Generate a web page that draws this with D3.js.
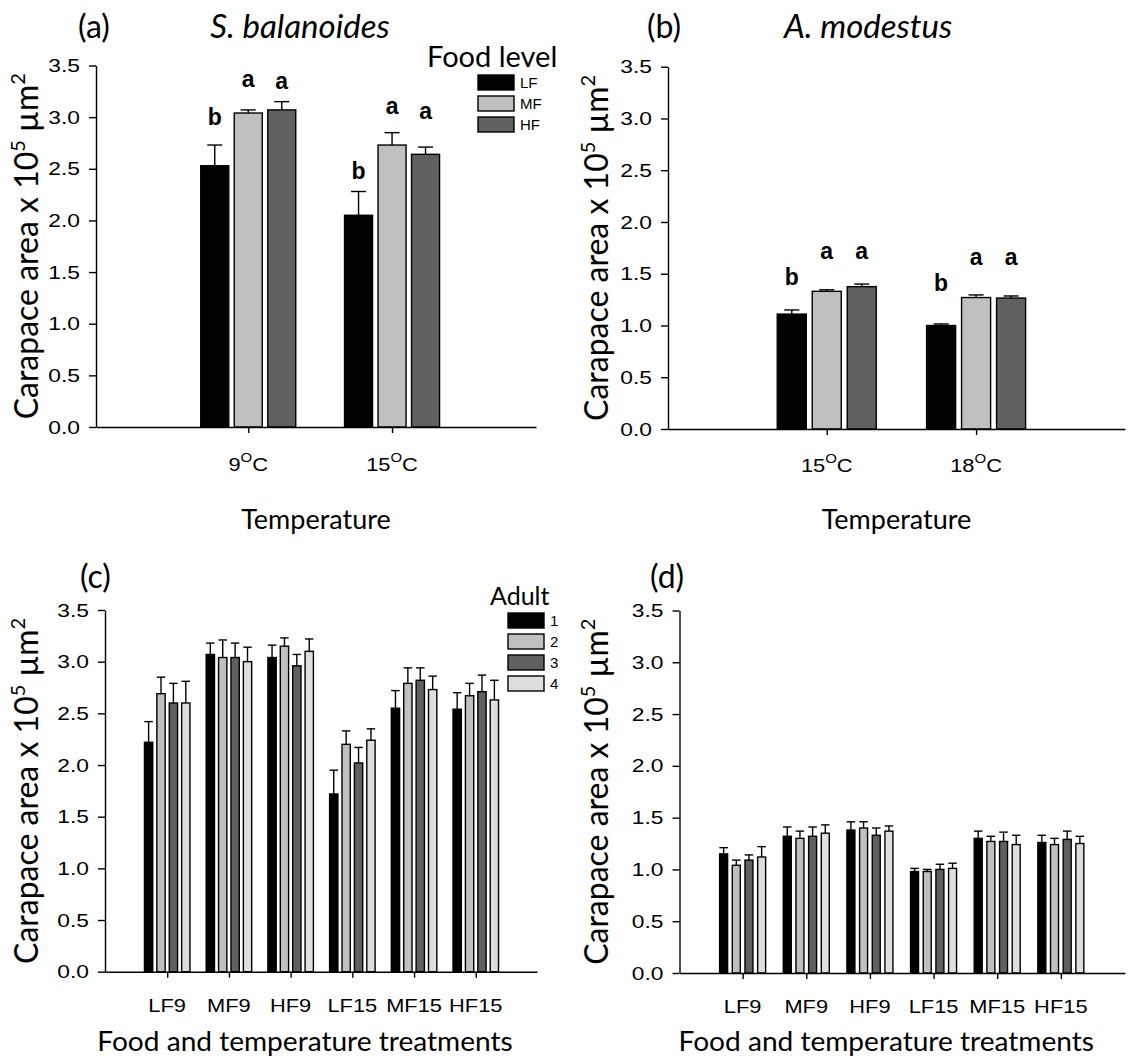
<!DOCTYPE html>
<html>
<head>
<meta charset="utf-8">
<script src="https://cdn.jsdelivr.net/npm/d3@7"></script>
<style>
  body { margin: 0; background: #fff; }
  svg { display: block; }
  .axis text { font-family: "Liberation Sans", Arial, sans-serif; font-size: 19px; fill: #000; }
  .axis path, .axis line { stroke: #000; stroke-width: 1.4px; }
  .cal { font-family: Lato, "Open Sans", sans-serif; fill: #000; }
  .ari { font-family: "Liberation Sans", Arial, sans-serif; fill: #000; }
</style>
</head>
<body>
<svg id="fig" width="1128" height="1062"></svg>
<script>
// ---------- data ----------
const foodLevels = ['LF', 'MF', 'HF'];
const foodColors = ['#000000', '#c0c0c0', '#606060'];

// (a) S. balanoides, rows = temperature, cols = LF, MF, HF
const balanoidesTemps = ['9', '15'];
const balanoidesMean = [[2.53, 3.04, 3.07], [2.05, 2.73, 2.64]];
const balanoidesSE = [[0.20, 0.03, 0.08], [0.23, 0.12, 0.07]];
const balanoidesLetters = [['b', 'a', 'a'], ['b', 'a', 'a']];
const balanoidesLetterAt = [[2.92, 3.29, 3.27], [2.40, 3.03, 2.98]];

// (b) A. modestus
const modestusTemps = ['15', '18'];
const modestusMean = [[1.11, 1.33, 1.375], [1.00, 1.27, 1.265]];
const modestusSE = [[0.04, 0.015, 0.025], [0.015, 0.025, 0.02]];
const modestusLetters = [['b', 'a', 'a'], ['b', 'a', 'a']];
const modestusLetterAt = [[1.39, 1.64, 1.64], [1.33, 1.58, 1.58]];

// (c), (d) per adult, rows = treatment, cols = adult 1..4
const treatments = ['LF9', 'MF9', 'HF9', 'LF15', 'MF15', 'HF15'];
const adults = ['1', '2', '3', '4'];
const adultColors = ['#000000', '#c0c0c0', '#606060', '#dedede'];

const balanoidesAdultMean = [
  [2.22, 2.69, 2.60, 2.60],
  [3.07, 3.04, 3.04, 3.00],
  [3.04, 3.15, 2.96, 3.10],
  [1.72, 2.20, 2.02, 2.24],
  [2.55, 2.79, 2.82, 2.73],
  [2.54, 2.67, 2.71, 2.63]
];
const balanoidesAdultSE = [
  [0.20, 0.16, 0.19, 0.21],
  [0.11, 0.17, 0.14, 0.14],
  [0.12, 0.08, 0.11, 0.12],
  [0.23, 0.13, 0.15, 0.11],
  [0.17, 0.15, 0.12, 0.13],
  [0.16, 0.12, 0.16, 0.19]
];

const modestusAdultMean = [
  [1.15, 1.04, 1.09, 1.12],
  [1.32, 1.30, 1.32, 1.35],
  [1.38, 1.40, 1.33, 1.37],
  [0.98, 0.98, 1.00, 1.01],
  [1.30, 1.27, 1.27, 1.24],
  [1.26, 1.24, 1.29, 1.25]
];
const modestusAdultSE = [
  [0.06, 0.05, 0.05, 0.10],
  [0.09, 0.07, 0.09, 0.08],
  [0.08, 0.06, 0.07, 0.05],
  [0.03, 0.02, 0.05, 0.05],
  [0.07, 0.05, 0.09, 0.09],
  [0.07, 0.06, 0.08, 0.07]
];

const yTicks = [0, 0.5, 1.0, 1.5, 2.0, 2.5, 3.0, 3.5];

const svg = d3.select('#fig');

// the original figure is a bit wider than tall, so widen text around its anchor
function stretchX(sel, k) {
  sel.each(function() {
    const t = d3.select(this);
    const x = +t.attr('x') || 0;
    t.attr('transform', `translate(${x * (1 - k)},0) scale(${k},1)`);
  });
}

function drawPanel(cfg) {
  const g = svg.append('g');

  const y = d3.scaleLinear().domain([0, 3.5]).range([cfg.yZero, cfg.yTop]);
  const x = d3.scalePoint().domain(cfg.cats).range([cfg.x0, cfg.x1])
      .padding(cfg.pad).align(cfg.align);
  const sub = d3.scaleBand().domain(cfg.series)
      .range([-cfg.groupW / 2, cfg.groupW / 2]).paddingInner(cfg.inner);
  const color = d3.scaleOrdinal().domain(cfg.series).range(cfg.colors);

  // flatten rows into bar records
  const bars = [];
  cfg.cats.forEach((c, i) => cfg.series.forEach((s, j) => {
    bars.push({cat: c, s: s, v: cfg.mean[i][j], e: cfg.se[i][j],
      letter: cfg.letters ? cfg.letters[i][j] : null,
      letterAt: cfg.letterAt ? cfg.letterAt[i][j] : null});
  }));
  const cx = d => x(d.cat) + sub(d.s) + sub.bandwidth() / 2;

  // error bars (upper only), drawn under the bars
  const eb = g.append('g').attr('stroke', '#000').attr('stroke-width', 1.4);
  eb.selectAll('line.v').data(bars).join('line').attr('class', 'v')
      .attr('x1', cx).attr('x2', cx)
      .attr('y1', d => y(d.v)).attr('y2', d => y(d.v + d.e));
  eb.selectAll('line.c').data(bars).join('line').attr('class', 'c')
      .attr('x1', d => cx(d) - cfg.cap / 2).attr('x2', d => cx(d) + cfg.cap / 2)
      .attr('y1', d => y(d.v + d.e)).attr('y2', d => y(d.v + d.e));

  g.append('g').selectAll('rect').data(bars).join('rect')
      .attr('x', d => x(d.cat) + sub(d.s))
      .attr('width', sub.bandwidth())
      .attr('y', d => y(d.v))
      .attr('height', d => y(0) - y(d.v))
      .attr('fill', d => color(d.s))
      .attr('stroke', '#000').attr('stroke-width', 1.4);

  if (cfg.letters) {
    g.append('g').selectAll('text').data(bars).join('text')
        .attr('class', 'ari')
        .attr('x', cx).attr('y', d => y(d.letterAt))
        .attr('text-anchor', 'middle')
        .attr('font-size', 23).attr('font-weight', 'bold')
        .text(d => d.letter);
  }

  // axes
  const ya = g.append('g').attr('class', 'axis')
      .attr('transform', `translate(${cfg.x0},0)`)
      .call(d3.axisLeft(y).tickValues(yTicks).tickFormat(d3.format('.1f'))
        .tickSize(7).tickSizeOuter(0).tickPadding(9));
  stretchX(ya.selectAll('.tick text'), 1.2);
  g.append('g').attr('class', 'axis')
      .attr('transform', `translate(0,${cfg.yZero})`)
      .call(d3.axisBottom(x).tickSize(6).tickSizeOuter(0).tickFormat(''));

  // category labels
  const lab = g.append('g').selectAll('text').data(cfg.cats).join('text')
      .attr('class', 'ari').attr('font-size', 19)
      .attr('text-anchor', 'middle')
      .attr('x', d => x(d)).attr('y', cfg.labelY);
  if (cfg.degrees) {
    lab.each(function(d) {
      const t = d3.select(this);
      t.append('tspan').text(d);
      t.append('tspan').attr('font-size', 13).attr('dy', -9).text('O');
      t.append('tspan').attr('dy', 9).text('C');
    });
  } else {
    lab.text(d => d);
  }
  stretchX(lab, 1.15);

  // y title
  const yt = g.append('text').attr('class', 'cal').attr('font-size', 32)
      .attr('text-anchor', 'middle')
      .attr('transform', `translate(${cfg.yTitleX},${(y(0) + y(3.5)) / 2}) rotate(-90)`);
  yt.append('tspan').text('Carapace area x 10');
  yt.append('tspan').attr('font-size', 20).attr('dy', -13).text('5');
  yt.append('tspan').attr('dy', 13).text(' \u00b5m');
  yt.append('tspan').attr('font-size', 20).attr('dy', -13).text('2');

  // x title
  const xt = g.append('text').attr('class', 'cal').attr('font-size', cfg.xTitleSize)
      .attr('text-anchor', 'middle')
      .attr('x', (cfg.x0 + cfg.x1) / 2 + cfg.xTitleShift).attr('y', cfg.xTitleY)
      .text(cfg.xTitle);
  stretchX(xt, cfg.xTitleStretch);

  // panel tag and species
  g.append('text').attr('class', 'cal').attr('font-size', 32)
      .attr('x', cfg.tagX).attr('y', cfg.tagY).text(cfg.tag);
  if (cfg.species) {
    g.append('text').attr('class', 'cal').attr('font-size', 33)
        .attr('font-style', 'italic').attr('text-anchor', 'middle')
        .attr('x', cfg.speciesX).attr('y', cfg.tagY).text(cfg.species);
  }

  // legend
  if (cfg.legend) {
    const L = cfg.legend;
    g.append('text').attr('class', 'cal').attr('font-size', L.titleSize)
        .attr('x', L.titleX).attr('y', L.titleY).text(L.title);
    const items = g.append('g').selectAll('g').data(cfg.series).join('g')
        .attr('transform', (d, i) => `translate(${L.x},${L.y + i * 21})`);
    items.append('rect').attr('width', 36).attr('height', 15)
        .attr('fill', d => color(d)).attr('stroke', '#000').attr('stroke-width', 1.4);
    items.append('text').attr('class', 'ari').attr('font-size', 15)
        .attr('x', 42).attr('y', 13).text(d => d);
  }
}

drawPanel({
  cats: balanoidesTemps, series: foodLevels, colors: foodColors,
  mean: balanoidesMean, se: balanoidesSE,
  letters: balanoidesLetters, letterAt: balanoidesLetterAt,
  x0: 96, x1: 536, yZero: 427, yTop: 65.5, pad: 1.03, align: 0.514,
  groupW: 95, inner: 0.164, cap: 15, degrees: true,
  labelY: 471, xTitle: 'Temperature', xTitleY: 529, xTitleSize: 27,
  xTitleShift: 0, xTitleStretch: 1, yTitleX: 38,
  tag: '(a)', tagX: 78, tagY: 38, species: 'S. balanoides', speciesX: 300,
  legend: {title: 'Food level', titleSize: 29, titleX: 427, titleY: 67, x: 478, y: 75}
});

drawPanel({
  cats: modestusTemps, series: foodLevels, colors: foodColors,
  mean: modestusMean, se: modestusSE,
  letters: modestusLetters, letterAt: modestusLetterAt,
  x0: 668, x1: 1125, yZero: 429, yTop: 66.7, pad: 1.03, align: 0.516,
  groupW: 99, inner: 0.17, cap: 15, degrees: true,
  labelY: 472, xTitle: 'Temperature', xTitleY: 529, xTitleSize: 27,
  xTitleShift: 0, xTitleStretch: 1, yTitleX: 608,
  tag: '(b)', tagX: 647, tagY: 38, species: 'A. modestus', speciesX: 868
});

drawPanel({
  cats: treatments, series: adults, colors: adultColors,
  mean: balanoidesAdultMean, se: balanoidesAdultSE,
  x0: 105, x1: 537, yZero: 971.7, yTop: 610, pad: 1.0, align: 0.504,
  groupW: 45.5, inner: 0.33, cap: 8.5, degrees: false,
  labelY: 1012, xTitle: 'Food and temperature treatments', xTitleY: 1051, xTitleSize: 27,
  xTitleShift: -16, xTitleStretch: 1.04, yTitleX: 38,
  tag: '(c)', tagX: 80, tagY: 588,
  legend: {title: 'Adult', titleSize: 25, titleX: 490, titleY: 605, x: 508, y: 613}
});

drawPanel({
  cats: treatments, series: adults, colors: adultColors,
  mean: modestusAdultMean, se: modestusAdultSE,
  x0: 679.5, x1: 1125, yZero: 973, yTop: 610.5, pad: 1.0, align: 0.496,
  groupW: 46, inner: 0.37, cap: 8.5, degrees: false,
  labelY: 1013, xTitle: 'Food and temperature treatments', xTitleY: 1051, xTitleSize: 27,
  xTitleShift: -16, xTitleStretch: 1.04, yTitleX: 608,
  tag: '(d)', tagX: 650, tagY: 588
});
</script>
</body>
</html>
